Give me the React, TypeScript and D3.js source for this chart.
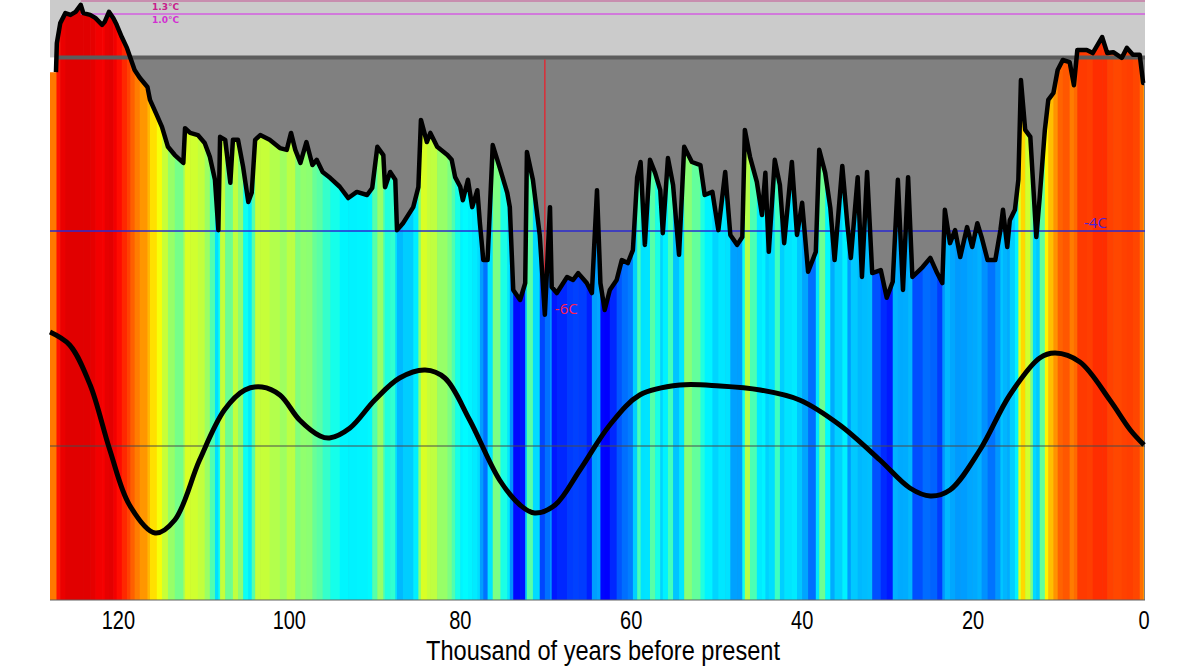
import * as d3 from 'd3';

const width = 1200;
const height = 668;
const plotLeft = 50;
const plotRight = 1145;
const plotBottom = 600;

// temperature anomaly (°C) against thousand of years before present
const ages = [
  128.0, 127.3, 127.2, 126.8, 126.2, 125.6, 125.0, 124.4, 124.1, 123.3, 122.7, 121.9, 121.6, 121.1, 120.6, 120.2,
  119.6, 119.0, 118.6, 118.1, 117.5, 116.6, 116.3, 115.5, 114.9, 114.2, 113.4, 112.4, 112.2, 111.6, 110.7, 109.9,
  109.3, 108.7, 108.3, 108.1, 107.5, 106.9, 106.6, 106.0, 105.4, 104.8, 104.4, 104.0, 103.4, 102.3, 101.1, 100.3,
  99.8, 99.3, 98.7, 98.0, 97.3, 96.8, 96.1, 95.2, 94.1, 93.1, 92.1, 90.9, 90.3, 89.7, 89.0, 88.8, 88.2, 87.6,
  87.4, 86.7, 85.5, 84.9, 84.6, 83.9, 83.5, 82.7, 81.5, 81.0, 80.6, 80.0, 79.7, 79.1, 78.6, 78.0, 77.7, 77.3,
  76.8, 76.2, 75.3, 74.5, 74.2, 73.8, 73.0, 72.4, 72.2, 71.5, 70.7, 70.1, 69.5, 69.3, 68.7, 67.5, 66.8, 66.2,
  65.2, 64.6, 64.0, 63.6, 63.1, 62.5, 61.7, 61.1, 60.4, 59.8, 59.3, 58.9, 58.4, 57.8, 57.2, 56.6, 56.3, 55.7,
  55.1, 54.4, 53.8, 52.9, 51.9, 51.4, 50.5, 49.8, 49.0, 48.4, 47.6, 47.0, 46.7, 46.1, 45.3, 44.7, 44.3, 43.9,
  43.2, 42.6, 42.1, 41.2, 40.6, 40.0, 39.3, 38.4, 38.0, 37.3, 36.7, 36.2, 35.3, 34.7, 34.3, 33.5, 33.0, 32.4,
  31.8, 30.8, 30.1, 29.4, 28.8, 28.2, 27.6, 27.1, 25.9, 25.0, 24.2, 23.6, 23.3, 22.7, 22.1, 21.5, 20.7, 20.1,
  19.5, 19.0, 18.3, 17.4, 16.8, 16.5, 16.0, 15.7, 15.1, 14.7, 14.4, 13.9, 13.3, 13.0, 12.6, 12.2, 11.6, 11.2,
  10.6, 10.1, 9.5, 8.7, 8.2, 7.8, 6.7, 6.0, 4.9, 4.3, 3.6, 2.6, 2.0, 1.3, 0.5, 0.1, 0.0,
];
const temps = [
  -0.34, -0.34, 0.33, 0.79, 1.02, 0.98, 1.05, 1.21, 1.02, 0.98, 0.91, 0.75, 0.82, 1.05, 0.91, 0.75,
  0.47, 0.22, -0.01, -0.29, -0.47, -0.68, -0.98, -1.33, -1.6, -2.06, -2.25, -2.43, -1.63, -1.74, -1.79, -1.97,
  -2.29, -2.82, -3.98, -1.83, -1.9, -2.89, -1.9, -1.9, -2.53, -3.33, -3.12, -1.9, -1.79, -1.9, -2.09, -2.13,
  -1.74, -2.13, -2.43, -1.95, -2.48, -2.36, -2.64, -2.78, -2.98, -3.24, -3.1, -3.17, -3.01, -2.06, -2.25, -2.99, -2.64, -2.82,
  -3.98, -3.82, -3.45, -2.99, -1.44, -1.95, -1.74, -2.06, -2.25, -2.36, -2.76, -2.98, -3.29, -2.82, -3.45, -3.06, -3.82, -4.67,
  -4.67, -2.02, -2.59, -3.12, -3.45, -5.36, -5.59, -5.2, -2.18, -2.82, -4.09, -5.93, -3.45, -5.29, -5.43, -5.06, -5.13, -4.97,
  -5.2, -5.43, -3.06, -5.2, -5.82, -5.36, -5.13, -4.67, -4.74, -4.44, -2.76, -2.41, -4.32, -2.36, -2.66, -3.06, -4.05, -2.32,
  -2.94, -4.55, -2.06, -2.41, -2.48, -3.17, -3.1, -3.98, -2.64, -4.09, -4.32, -4.14, -1.67, -2.29, -2.87, -3.63, -2.66, -4.48,
  -2.36, -2.94, -4.28, -2.41, -4.09, -3.35, -4.94, -4.48, -2.13, -2.66, -3.47, -4.67, -2.5, -3.86, -4.62, -2.76, -5.06, -2.64,
  -4.97, -4.9, -5.54, -5.17, -2.82, -5.36, -2.76, -5.06, -4.83, -4.62, -4.97, -5.2, -3.51, -4.28, -3.98, -4.6, -3.91, -4.37,
  -3.82, -4.14, -4.67, -4.67, -3.98, -3.51, -4.37, -3.75, -3.51, -2.82, -0.52, -1.67, -1.83, -2.82, -4.14, -3.22, -1.67, -0.98,
  -0.82, -0.29, -0.06, -0.11, -0.64, 0.17, 0.17, 0.1, 0.47, 0.1, 0.12, -0.01, 0.22, 0.06, 0.06, -0.59, -0.59,
];

// smoothed signal (arbitrary units, 0 = grey middle line)
const smoothAges = [
  128.0, 125.7, 123.3, 121.0, 118.7, 115.7, 113.4, 110.5, 107.6, 105.2, 103.2, 101.1, 98.8, 96.4, 95.3, 92.9,
  90.0, 87.1, 84.1, 81.8, 78.9, 75.4, 73.0, 71.3, 68.9, 66.0, 62.5, 59.0, 54.3, 49.6, 44.9, 40.3, 35.6, 30.9,
  27.4, 25.0, 22.7, 19.2, 15.7, 12.2, 10.4, 7.5, 4.0, 1.6, 0.0,
];
const smoothValues = [
  1.14, 1.01, 0.61, -0.04, -0.59, -0.87, -0.74, -0.14, 0.36, 0.56, 0.59, 0.51, 0.26, 0.1, 0.08, 0.18,
  0.46, 0.68, 0.76, 0.68, 0.26, -0.34, -0.59, -0.67, -0.59, -0.24, 0.21, 0.51, 0.61, 0.6, 0.56, 0.46, 0.21, -0.14,
  -0.42, -0.5, -0.44, -0.04, 0.51, 0.88, 0.93, 0.84, 0.46, 0.16, 0.01,
];

const ticks = [120, 100, 80, 60, 40, 20, 0];
const warmLines = [
  { temp: 1.3, label: '1.3°C', from: 124.4, line: '#c77aa6', text: '#c8208c' },
  { temp: 1.0, label: '1.0°C', from: 124.4, line: '#d35ee0', text: '#d22ed2' },
];
const coldLine = { temp: -4, label: '-4C' };
const coldest = { age: 70.1, temp: -5.93, label: '-6C' };

const x = d3.scaleLinear().domain([128, 0]).range([plotLeft, 1144]);
const yT = d3.scaleLinear().domain([1.3, -4]).range([1, 231]);
const yS = d3.scaleLinear().domain([1, -1]).range([346, 546]);

// jet colour map
const jet = d3
  .scaleLinear<string>()
  .domain([0, 0.125, 0.375, 0.625, 0.875, 1])
  .range(['#000080', '#0000ff', '#00ffff', '#ffff00', '#ff0000', '#800000'])
  .interpolate(d3.interpolateRgb)
  .clamp(true);
const tempToJet = d3
  .scaleLinear()
  .domain([-6, -5.5, -4.5, -3, -2, 0, 1])
  .range([0.1, 0.13, 0.26, 0.375, 0.55, 0.8, 0.905])
  .clamp(true);

const narrow = "'Liberation Sans', Arial, sans-serif";

const App = () => {
  const data = ages.map((a, i) => ({ age: a, temp: temps[i] }));
  const smooth = smoothAges.map((a, i) => ({ age: a, v: smoothValues[i] }));

  const underArea = d3
    .area<{ age: number; temp: number }>()
    .x(d => x(d.age))
    .y0(plotBottom)
    .y1(d => yT(d.temp))(data);

  const tempLine = d3
    .line<{ age: number; temp: number }>()
    .x(d => x(d.age))
    .y(d => yT(d.temp))(data.slice(1));

  const smoothLine = d3
    .line<{ age: number; v: number }>()
    .x(d => x(d.age))
    .y(d => yS(d.v))
    .curve(d3.curveCatmullRom.alpha(0.5))(smooth);

  const zeroY = yT(0);
  const start = x(ages[1]);

  return (
    <svg width={width} height={height} style={{ position: 'absolute', left: 0, top: 0, background: '#fff' }}>
      <defs>
        <clipPath id="under">
          <path d={underArea || ''} />
        </clipPath>
      </defs>
      <rect x={plotLeft} y={0} width={plotRight - plotLeft} height={zeroY} fill="#cbcbcb" />
      <rect x={start} y={zeroY} width={plotRight - start} height={plotBottom - zeroY} fill="#808080" />
      <g clipPath="url(#under)">
        {data.slice(0, -1).map((d, i) => {
          const n = data[i + 1];
          const x0 = x(d.age);
          const x1 = x(n.age);
          return (
            <rect
              key={i}
              x={x0}
              y={0}
              width={x1 - x0 + 0.6}
              height={plotBottom}
              fill={jet(tempToJet((d.temp + n.temp) / 2))}
            />
          );
        })}
      </g>
      <line x1={start} x2={plotRight} y1={zeroY} y2={zeroY} stroke="#5c5c5c" strokeWidth={4} />
      {warmLines.map(l => (
        <g key={l.label}>
          <line x1={x(l.from)} x2={plotRight} y1={yT(l.temp)} y2={yT(l.temp)} stroke={l.line} strokeWidth={1.3} />
          <text
            x={152}
            y={yT(l.temp) + 8.5}
            fontSize={9}
            fontWeight="bold"
            fill={l.text}
            fontFamily="'DejaVu Sans', sans-serif"
          >
            {l.label}
          </text>
        </g>
      ))}
      <line x1={plotLeft} x2={plotRight} y1={yT(coldLine.temp)} y2={yT(coldLine.temp)} stroke="#2a2ad0" strokeWidth={1.4} />
      <text x={1084} y={yT(coldLine.temp) - 3} fontSize={15} fill="#4a22d6" fontFamily="'Open Sans', sans-serif">
        {coldLine.label}
      </text>
      <line x1={x(coldest.age)} x2={x(coldest.age)} y1={zeroY + 2} y2={yT(coldest.temp)} stroke="#e8202c" strokeWidth={1.3} />
      <path d={tempLine || ''} fill="none" stroke="#000" strokeWidth={4.5} strokeLinejoin="round" />
      <text x={x(coldest.age) + 10} y={yT(coldest.temp) - 1} fontSize={15} fill="#ff2050" fontFamily="'Open Sans', sans-serif">
        {coldest.label}
      </text>
      <line x1={plotLeft} x2={plotRight} y1={yS(0)} y2={yS(0)} stroke="#4a4a4a" strokeWidth={1.2} />
      <path d={smoothLine || ''} fill="none" stroke="#000" strokeWidth={5} />
      <line x1={plotLeft} x2={plotRight} y1={plotBottom} y2={plotBottom} stroke="#606060" strokeWidth={1} />
      {ticks.map(t => (
        <text
          key={t}
          transform={`translate(${x(t)},629) scale(0.8,1)`}
          textAnchor="middle"
          fontSize={25}
          fill="#000"
          fontFamily={narrow}
        >
          {t}
        </text>
      ))}
      <text
        transform="translate(603,660) scale(0.843,1)"
        textAnchor="middle"
        fontSize={28}
        fill="#000"
        fontFamily={narrow}
      >
        Thousand of years before present
      </text>
    </svg>
  );
};

export default App;
